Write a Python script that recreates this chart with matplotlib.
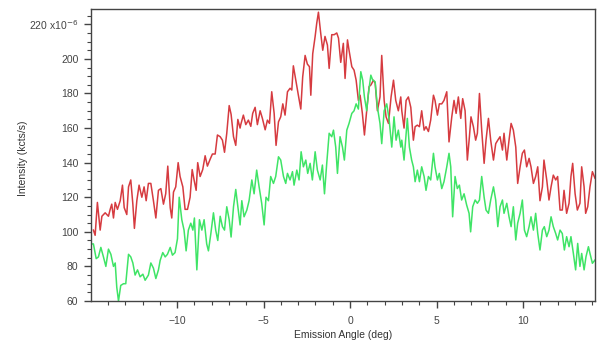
import matplotlib.pyplot as plt
from matplotlib.ticker import MultipleLocator, FuncFormatter

plt.rcParams['font.family'] = ['Liberation Sans', 'DejaVu Sans']

# scan 1 (red)
red_angle = [
    -14.84, -14.74, -14.61, -14.45, -14.35, -14.16, -13.97, -13.87, -13.78, -13.68,
    -13.58, -13.45, -13.29, -13.16, -13.06, -12.91, -12.81, -12.68, -12.56, -12.47,
    -12.33, -12.20, -12.04, -11.91, -11.79, -11.66, -11.52, -11.37, -11.23, -11.08,
    -10.94, -10.79, -10.66, -10.54, -10.40, -10.31, -10.21, -10.08, -9.94, -9.83,
    -9.67, -9.54, -9.40, -9.25, -9.13, -9.02, -8.90, -8.81, -8.67, -8.52,
    -8.38, -8.25, -8.09, -7.96, -7.80, -7.67, -7.51, -7.38, -7.26, -7.13,
    -6.99, -6.88, -6.74, -6.61, -6.49, -6.36,
    -6.32, -6.17, -6.03, -5.88, -5.74, -5.63, -5.49, -5.36, -5.20, -5.07,
    -4.91, -4.78, -4.66, -4.53, -4.39, -4.28, -4.14, -4.01, -3.89, -3.76,
    -3.62, -3.47, -3.37, -3.28, -3.14, -2.99, -2.85, -2.74, -2.60, -2.47,
    -2.35, -2.27, -2.16, -2.02, -1.93, -1.83, -1.70, -1.58, -1.45, -1.31,
    -1.21, -1.06, -0.92, -0.77, -0.67, -0.54, -0.39, -0.29, -0.15, -0.06,
    0.10, 0.23, 0.35, 0.48, 0.58, 0.71, 0.83, 0.96, 1.10, 1.21,
    1.35, 1.45, 1.58, 1.73, 1.83, 1.97, 2.08, 2.22, 2.37, 2.51,
    2.64, 2.79, 2.93,
    2.99, 3.12, 3.24, 3.37, 3.51, 3.66, 3.76, 3.89, 4.01, 4.14,
    4.28, 4.39, 4.53, 4.66, 4.82, 4.91, 5.05, 5.16, 5.30, 5.43,
    5.59, 5.72, 5.88, 6.01, 6.13, 6.26, 6.40, 6.51, 6.65, 6.78,
    6.90, 6.99, 7.13, 7.26, 7.36, 7.48, 7.61, 7.75, 7.86, 8.00,
    8.13, 8.29, 8.42, 8.54, 8.67, 8.81, 8.90, 9.06, 9.19, 9.31,
    9.44, 9.58, 9.69, 9.83, 9.96, 10.08, 10.21, 10.35, 10.46, 10.60,
    10.73, 10.85, 10.98, 11.12, 11.21, 11.37, 11.50, 11.62, 11.75, 11.89,
    12.00, 12.14, 12.27, 12.37, 12.52, 12.66, 12.77, 12.87, 13.01, 13.14,
    13.29, 13.39, 13.53, 13.62, 13.74, 13.87, 14.01, 14.16,
]
red_kcts = [
    101, 98, 117, 101, 109, 111, 109, 113, 116, 108,
    117, 113, 118, 127, 114, 110, 126, 130, 116, 102,
    118, 127, 120, 126, 118, 128, 128, 118, 108, 124,
    125, 116, 122, 138, 114, 108, 123, 126, 140, 132,
    126, 113, 113, 120, 136, 130, 124, 140, 132, 136,
    144, 138, 142, 145, 145, 156, 155, 153, 146, 157,
    173, 168, 155, 150, 165, 160,
    162, 167.5, 162, 164.6, 161, 168.5, 172, 162, 170, 165.6,
    159, 164.6, 162.7, 181, 168.5, 150, 163.6, 166.5, 174, 167.5,
    181, 183, 182, 196, 187.7, 179, 171, 189.6, 202, 197,
    195.5, 179, 203, 213, 220.5, 227, 215, 205, 213, 208,
    194.5, 214, 214, 215, 212, 198, 209, 188.7, 211, 205,
    195.5, 193.5, 187.7, 176, 179, 168.5, 156, 170, 184, 185,
    187.7, 186, 170, 178, 202, 176, 166.5, 162.7, 178, 187.7,
    176, 170, 178,
    170, 160, 176, 178, 172, 153, 160.8, 161.7, 160.8, 170,
    158.8, 160.8, 158, 164.6, 179, 176, 167.5, 174, 174, 176,
    181, 152, 166.5, 176, 168.5, 178, 165.6, 177, 170, 141.5,
    155, 166.5, 160.8, 153, 157, 180, 158.8, 139.6, 153, 165.6,
    153, 141.5, 151, 153, 155, 147.3, 157, 141.5, 153, 162.7,
    158.8, 149, 128, 137.6, 145.4, 147.3, 137.6, 142.5, 137.6, 128,
    132, 137.6, 118, 126, 141.5, 130, 118.4, 126, 132.8, 130,
    132, 112.6, 112.6, 124, 110.7, 116.5, 132, 139.6, 122, 112.6,
    116.5, 137.6, 126, 110.7, 114.5, 126, 134.8, 131,
]

# scan 2 (green)
green_angle = [
    -14.93, -14.84, -14.68, -14.55, -14.41, -14.26, -14.12, -13.97, -13.83, -13.68,
    -13.58, -13.49, -13.39, -13.26, -13.10, -12.97, -12.81, -12.68, -12.56, -12.43,
    -12.29, -12.14, -11.98, -11.85, -11.66, -11.52, -11.37, -11.23, -11.08, -10.98,
    -10.83, -10.69, -10.56, -10.40, -10.27, -10.12, -9.98, -9.88, -9.73, -9.60,
    -9.48, -9.35, -9.21, -9.09, -9.00, -8.86, -8.71, -8.57, -8.44, -8.29,
    -8.19, -8.05, -7.90, -7.77, -7.65, -7.51, -7.38, -7.26, -7.13, -6.99,
    -6.88, -6.74, -6.61, -6.49, -6.36,
    -6.26, -6.13, -5.97, -5.84, -5.68, -5.55, -5.40, -5.26, -5.11, -4.97,
    -4.86, -4.72, -4.59, -4.43, -4.30, -4.14, -4.01, -3.85, -3.72, -3.62,
    -3.47, -3.33, -3.24, -3.08, -2.95, -2.83, -2.70, -2.56, -2.45, -2.31,
    -2.18, -2.02, -1.89, -1.73, -1.60, -1.48, -1.35, -1.21, -1.06, -0.96,
    -0.83, -0.73, -0.58, -0.44, -0.33, -0.19, -0.06, 0.10, 0.23, 0.35,
    0.48, 0.62, 0.73, 0.83, 0.96, 1.06, 1.20, 1.31, 1.45, 1.58,
    1.73, 1.83, 1.97, 2.12, 2.26, 2.41, 2.54, 2.66, 2.79, 2.93,
    2.99, 3.12, 3.24, 3.31, 3.43, 3.56, 3.66, 3.76, 3.89, 4.01,
    4.14, 4.28, 4.39, 4.53, 4.66, 4.82, 4.91, 5.05, 5.16, 5.30,
    5.43, 5.59, 5.72, 5.82, 5.93, 6.07, 6.20, 6.32, 6.45, 6.59,
    6.74, 6.88, 6.97, 7.09, 7.23, 7.36, 7.48, 7.61, 7.75, 7.86,
    8.00, 8.13, 8.29, 8.42, 8.54, 8.67, 8.81, 8.90, 9.06, 9.19,
    9.31, 9.44, 9.58, 9.69, 9.83, 9.96, 10.08, 10.21, 10.35, 10.46,
    10.60, 10.73, 10.85, 10.98, 11.12, 11.23, 11.37, 11.50, 11.62, 11.75,
    11.89, 12.00, 12.14, 12.27, 12.39, 12.52, 12.66, 12.77, 12.91, 13.04,
    13.16, 13.29, 13.39, 13.53, 13.64, 13.78, 13.87, 14.01, 14.16,
]
green_kcts = [
    93, 93, 84.5, 85.5, 91, 85.5, 80, 90, 87, 80,
    82, 68, 60, 69, 70, 70, 87, 85.5, 82, 75,
    78, 74, 75.5, 72, 75, 82, 79, 73, 78, 83.5,
    88, 85.5, 87, 91, 86.5, 88, 96, 120, 107, 101,
    89, 101, 105, 101, 108, 78, 107, 101, 107, 93,
    89, 99, 111, 101, 95, 109, 103, 101, 114.5, 107,
    97, 114.5, 124.5, 114.5, 104,
    118, 108.7, 112.6, 118, 130, 122, 135.7, 126, 116.5, 104,
    120, 118, 132, 128, 132, 143.4, 141.5, 132, 128, 133.8,
    130, 134.8, 127, 135.7, 130, 146.3, 137.6, 141.5, 133.8, 139.6,
    130, 146.3, 135.7, 130, 138.6, 122, 139.6, 157, 155, 158.8,
    149, 133.8, 155, 149, 141.5, 158.8, 162.7, 168.5, 170, 174,
    171, 192.6, 187.7, 178, 170, 180, 190.6, 187.7, 186.8, 172,
    162.7, 151, 170, 174, 164.6, 149, 166.5, 153, 158.8, 149,
    153, 141.5, 157, 165.6, 149, 141.5, 137.6, 129, 135.7, 129,
    137.6, 132, 124, 132, 130, 145.4, 137.6, 130, 133.8, 125,
    129, 137.6, 145.4, 137.6, 108.7, 132, 125, 127, 118.4, 122,
    115.5, 110.7, 100, 114.5, 118.4, 116.5, 118.4, 132, 120, 112.6,
    110.7, 118.4, 126, 118.4, 103, 114.5, 118.4, 110.7, 116.5, 108.7,
    103, 114.5, 95.3, 105, 110.7, 118.4, 101, 97.2, 103, 108.7,
    101, 110.7, 99, 89.5, 101, 103, 97.2, 101, 108.7, 103,
    99, 95.3, 101, 99, 89.5, 97.2, 91.4, 97.2, 87.5, 78,
    93.3, 80, 87.5, 78, 85.6, 91.4, 87.5, 81.8, 83.7,
]

fig = plt.figure(figsize=(6.01, 3.5), dpi=100)
ax = fig.add_axes([0.1514, 0.14, 0.8386, 0.834])

ax.plot(red_angle, red_kcts, color='#d63b40', lw=1.1, solid_joinstyle='round')
ax.plot(green_angle, green_kcts, color='#3fe466', lw=1.1, solid_joinstyle='round')

ax.set_xlim(-14.98, 14.16)
ax.set_ylim(60, 228.8)

ax.xaxis.set_major_locator(MultipleLocator(5))
ax.xaxis.set_minor_locator(MultipleLocator(1))
ax.yaxis.set_major_locator(MultipleLocator(20))
ax.yaxis.set_minor_locator(MultipleLocator(5))


def ylab(v, pos):
    if abs(v - 220) < 1e-6:
        return '220 x10$^{-6}$'
    return '%d' % v


ax.yaxis.set_major_formatter(FuncFormatter(ylab))

ax.tick_params(which='both', direction='out', colors='#444444', labelsize=7.5,
               top=False, right=False)
ax.tick_params(which='major', length=5, width=1, pad=4)
ax.tick_params(axis='x', which='major', pad=6)
ax.tick_params(which='minor', length=3, width=0.8)
for s in ax.spines.values():
    s.set_color('#444444')
    s.set_linewidth(1)

ax.set_xlabel('Emission Angle (deg)', fontsize=7.5, color='#333333', labelpad=3)
ax.set_ylabel('Intensity (kcts/s)', fontsize=7.5, color='#333333')
ax.yaxis.set_label_coords(-0.125, 0.49)

fig.savefig('out.png', dpi=100)
